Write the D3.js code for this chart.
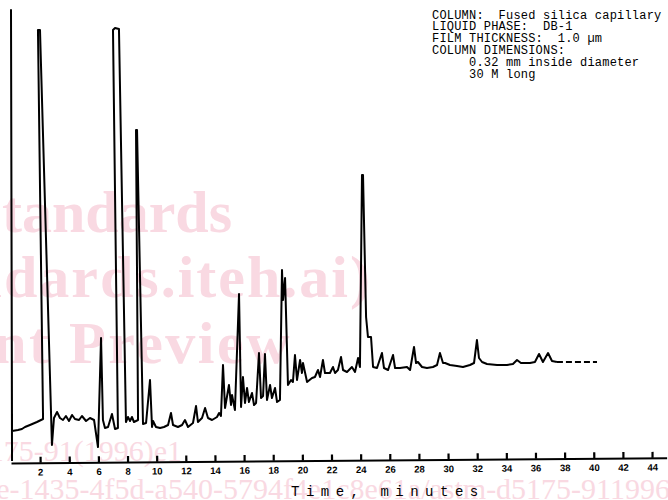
<!DOCTYPE html>
<html>
<head>
<meta charset="utf-8">
<script src="https://cdn.jsdelivr.net/npm/d3@7"></script>
<style>
  html, body { margin: 0; padding: 0; background: #fff; }
  svg text { white-space: pre; }
</style>
</head>
<body>
<div id="chart"></div>
<script>
// retention time (minutes) and detector response (arbitrary units)
const traceTime = [0.07, 0.00, 0.07, 0.48, 0.75, 0.96, 1.30, 1.78, 2.20, 1.85, 1.99, 2.81, 2.95, 3.16, 3.36, 3.57, 3.77, 3.98, 4.19, 4.39,
  4.67, 4.87, 5.15, 5.42, 5.70, 5.97, 6.18, 6.31, 6.45, 6.66, 6.93, 7.14, 7.34, 7.00, 7.14, 7.41, 7.89, 8.03, 8.17, 8.30,
  8.44, 8.72, 8.58, 8.65, 9.06, 9.27, 9.54, 9.68, 9.75, 9.95, 10.23, 10.50, 10.78, 10.98, 11.12, 11.46, 11.74, 11.94, 12.15, 12.49,
  12.70, 12.83, 13.11, 13.32, 13.52, 13.80, 14.14, 14.28, 14.41, 14.55, 14.69, 14.96, 15.10, 15.17, 15.37, 15.65, 15.79, 15.92, 16.06, 16.20,
  16.33, 16.54, 16.68, 16.82, 17.02, 17.16, 17.30, 17.43, 17.57, 17.78, 17.91, 18.12, 18.26, 18.46, 18.60, 18.67, 18.81, 19.01, 19.22, 19.35,
  19.49, 19.63, 19.84, 19.97, 20.04, 20.32, 20.66, 20.86, 21.07, 21.21, 21.41, 21.55, 21.89, 22.10, 22.24, 22.44, 22.65, 22.79, 23.06, 23.40,
  23.61, 23.82, 23.95, 24.09, 24.16, 24.37, 24.50, 24.71, 24.85, 25.12, 25.46, 25.60, 25.88, 26.22, 26.36, 26.70, 27.18, 27.39, 27.66, 27.80,
  27.93, 28.21, 28.55, 28.96, 29.24, 29.44, 29.65, 29.79, 30.13, 30.61, 31.02, 31.50, 31.78, 31.98, 32.12, 32.33, 32.67, 33.36, 34.04, 34.45,
  34.73, 35.00, 35.62, 35.96, 36.24, 36.51, 36.86, 37.13, 37.47, 38.37, 39.40, 40.22];

const traceResponse = [0, 451, 30, 31, 32, 34, 36, 39, 42, 431, 431, 16, 43, 49, 43, 41, 45, 40, 46, 42,
  41, 45, 40, 43, 41, 14, 123, 41, 33, 34, 47, 32, 33, 431, 433, 432, 39, 44, 40, 44,
  39, 41, 331, 331, 37, 38, 81, 34, 40, 34, 33, 34, 36, 48, 36, 34, 36, 41, 34, 38,
  55, 39, 43, 53, 43, 41, 44, 48, 45, 96, 53, 76, 56, 66, 51, 167, 54, 84, 58, 73,
  59, 68, 56, 58, 108, 63, 65, 107, 61, 76, 63, 73, 59, 61, 191, 161, 183, 76, 81, 79,
  106, 81, 101, 88, 98, 79, 83, 84, 91, 84, 101, 88, 88, 94, 88, 91, 104, 91, 89, 94,
  89, 103, 94, 286, 286, 144, 124, 124, 94, 93, 108, 93, 91, 106, 93, 93, 94, 91, 114, 98,
  99, 94, 93, 94, 96, 108, 98, 98, 96, 95, 94, 96, 98, 121, 103, 99, 97, 96, 96, 97,
  101, 98, 98, 99, 107, 99, 108, 100, 99, 99, 99, 99];

const tickValues = [2, 4, 6, 8, 10, 12, 14, 16, 18, 20, 22, 24, 26, 28, 30, 32, 34, 36, 38, 40, 42, 44];

const xLabel = "Time, minutes";

const notes = [
  "COLUMN:  Fused silica capillary",
  "LIQUID PHASE:  DB-1",
  "FILM THICKNESS:  1.0 \u00b5m",
  "COLUMN DIMENSIONS:",
  "     0.32 mm inside diameter",
  "     30 M long"
];

const watermark = [
  "iTeh Standards",
  "(https://standards.iteh.ai)",
  "Document Preview",
  "ASTM D5175-91(1996)e1",
  "https://standards.iteh.ai/catalog/standards/sist/0b0e5c5e-1435-4f5d-a540-5794f4e1c8e61a/astm-d5175-911996"
];

const width = 668;
const height = 500;

const svg = d3.select("#chart")
  .append("svg")
  .attr("width", width)
  .attr("height", height)
  .attr("viewBox", `0 0 ${width} ${height}`);

// faint pink watermark behind everything
const wm = svg.append("g")
  .attr("fill", "#f9d9e2")
  .attr("font-family", "Liberation Serif, serif")
  .attr("text-anchor", "end");

const wmPos = [
  { x: 232, y: 232, size: 60, weight: "bold", ls: 0 },
  { x: 372, y: 297, size: 60, weight: "bold", ls: 2 },
  { x: 292, y: 363, size: 60, weight: "bold", ls: 2.5 },
  { x: 182, y: 461, size: 30, weight: "normal", ls: 0 },
  { x: 670, y: 499, size: 30, weight: "normal", ls: 0 }
];

wm.selectAll("text")
  .data(watermark)
  .enter().append("text")
  .attr("x", (d, i) => wmPos[i].x)
  .attr("y", (d, i) => wmPos[i].y)
  .attr("font-size", (d, i) => wmPos[i].size)
  .attr("font-weight", (d, i) => wmPos[i].weight)
  .attr("letter-spacing", (d, i) => wmPos[i].ls)
  .text(d => d);

const x = d3.scaleLinear().domain([0, 45]).range([11, 666.65]);
const y = d3.scaleLinear().domain([0, 450]).range([461, 11]);

const points = traceTime.map((t, i) => [t, traceResponse[i]]);

const line = d3.line()
  .x(d => x(d[0]))
  .y(d => y(d[1]));

const tailStart = traceTime.indexOf(37.47);

svg.append("path")
  .datum(points.slice(0, tailStart + 1))
  .attr("fill", "none")
  .attr("stroke", "#000")
  .attr("stroke-width", 2)
  .attr("stroke-linejoin", "round")
  .attr("d", line);

// end of the trace fades into dashes on the scan
svg.append("path")
  .datum(points.slice(tailStart))
  .attr("fill", "none")
  .attr("stroke", "#000")
  .attr("stroke-width", 1.8)
  .attr("stroke-dasharray", "6,3")
  .attr("d", line);

// time axis, slightly skewed like the scanned paper
const xAxis = d3.axisBottom(x)
  .tickValues(tickValues)
  .tickSizeInner(-6)
  .tickSizeOuter(0)
  .tickPadding(6)
  .tickFormat(d3.format("d"));

const axisG = svg.append("g")
  .attr("transform", "translate(0,463) rotate(-0.45)")
  .call(xAxis);

axisG.select(".domain")
  .attr("stroke", "#000")
  .attr("stroke-width", 2);

axisG.selectAll(".tick line")
  .attr("stroke", "#000")
  .attr("stroke-width", 2.2);

axisG.selectAll(".tick text")
  .attr("fill", "#000")
  .attr("font-family", "Liberation Sans, Arial, sans-serif")
  .attr("font-weight", "bold")
  .attr("font-size", 9.5);

svg.append("text")
  .attr("x", 291)
  .attr("y", 496)
  .attr("font-family", "Liberation Mono, monospace")
  .attr("font-size", 14)
  .attr("letter-spacing", 6.5)
  .attr("fill", "#000")
  .text(xLabel);

// column conditions, typed in the corner
svg.append("g")
  .attr("font-family", "Liberation Mono, monospace")
  .attr("font-size", 12)
  .attr("letter-spacing", 0.2)
  .attr("fill", "#000")
  .selectAll("text")
  .data(notes)
  .enter().append("text")
  .attr("x", 432)
  .attr("y", (d, i) => 18.5 + i * 11.8)
  .text(d => d);
</script>
</body>
</html>
